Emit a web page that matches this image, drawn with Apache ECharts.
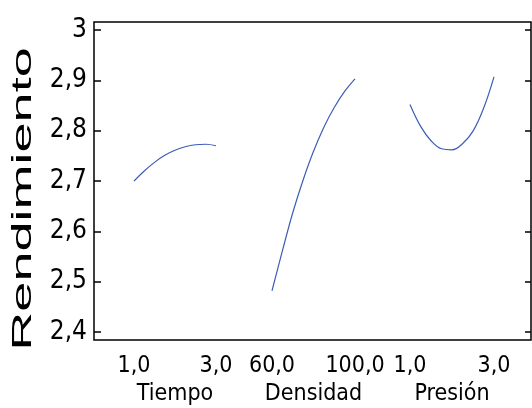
<!DOCTYPE html>
<html>
<head>
<meta charset="utf-8">
<script src="https://cdn.jsdelivr.net/npm/echarts@6/dist/echarts.min.js"></script>
<style>html,body{margin:0;padding:0;background:#fff}#c{width:532px;height:408px}</style>
</head>
<body>
<div id="c"></div>
<script>
// ---- data ----
const yTitle = 'Rendimiento';
const yTicks = [2.4, 2.5, 2.6, 2.7, 2.8, 2.9, 3.0];
const factorNames = ['Tiempo', 'Densidad', 'Presión'];

const tiempoX = [1.0, 1.25, 1.5, 1.75, 2.0, 2.25, 2.5, 2.75, 3.0];
const tiempoY = [2.700, 2.720, 2.737, 2.751, 2.761, 2.768, 2.772, 2.773, 2.770];

const densidadX = [60, 65, 70, 75, 80, 85, 90, 95, 100];
const densidadY = [2.482, 2.561, 2.637, 2.702, 2.759, 2.807, 2.846, 2.878, 2.903];

const presionX = [1.0, 1.25, 1.5, 1.75, 2.0, 2.25, 2.5, 2.75, 3.0];
const presionY = [2.852, 2.809, 2.780, 2.764, 2.762, 2.774, 2.799, 2.844, 2.907];

const xRanges = [[1, 3, 1], [60, 100, 20], [1, 3, 1]];
const xTickLabels = [['1,0', '3,0'], ['60,0', '100,0'], ['1,0', '3,0']];

// ---- chart ----
const FONT = "'Liberation Sans Narrow','Arial Narrow','DejaVu Sans Condensed',sans-serif";
const chart = echarts.init(document.getElementById('c'));
const panelLeft = [134, 272, 410];
const panelWidth = [82, 83, 84];
const seriesX = [tiempoX, densidadX, presionX];
const seriesY = [tiempoY, densidadY, presionY];

const grids = [
  {left: 94, top: 22, width: 437, height: 318, show: true, borderColor: '#000', borderWidth: 1.5, backgroundColor: 'transparent', containLabel: false, outerBoundsMode: 'none'},
  {left: 94, top: 30, width: 437, height: 302, containLabel: false, outerBoundsMode: 'none'}
];
const xAxes = [
  {gridIndex: 0, type: 'value', show: false},
  {gridIndex: 1, type: 'value', show: false}
];
const yAxes = [
  {gridIndex: 0, type: 'value', show: false},
  {gridIndex: 1, type: 'value', position: 'left', min: 2.4, max: 3.0, interval: 0.1,
    axisLine: {show: false}, splitLine: {show: false},
    axisTick: {show: true, inside: true, length: 7, lineStyle: {color: '#000', width: 1.5}},
    axisLabel: {margin: 7, fontSize: 26, color: '#000', fontFamily: FONT,
      formatter: v => (Math.abs(v - 3) < 1e-9 ? '3' : v.toFixed(1).replace('.', ','))}},
  {gridIndex: 1, type: 'value', position: 'right', min: 2.4, max: 3.0, interval: 0.1,
    axisLine: {show: false}, splitLine: {show: false},
    axisTick: {show: true, inside: true, length: 6, lineStyle: {color: '#000', width: 1.5}},
    axisLabel: {show: false}}
];
const series = [];
for (let i = 0; i < 3; i++) {
  grids.push({left: panelLeft[i], top: 30, width: panelWidth[i], height: 302, containLabel: false, outerBoundsMode: 'none'});
  const gi = grids.length - 1;
  const [mn, mx, iv] = xRanges[i];
  const labels = xTickLabels[i];
  xAxes.push({gridIndex: gi, type: 'value', min: mn, max: mx, interval: iv,
    axisLine: {show: false}, axisTick: {show: false}, splitLine: {show: false},
    axisLabel: {margin: 23, fontSize: 23, color: '#000', fontFamily: FONT,
      formatter: v => (Math.abs(v - mn) < 1e-9 ? labels[0] : (Math.abs(v - mx) < 1e-9 ? labels[1] : ''))},
    name: factorNames[i], nameLocation: 'middle', nameGap: 48,
    nameTextStyle: {fontSize: 23, color: '#000', fontFamily: FONT}});
  yAxes.push({gridIndex: gi, type: 'value', min: 2.4, max: 3.0, show: false});
  series.push({type: 'line', xAxisIndex: xAxes.length - 1, yAxisIndex: yAxes.length - 1,
    data: seriesX[i].map((x, k) => [x, seriesY[i][k]]), smooth: 0.4, showSymbol: false,
    lineStyle: {color: '#3d5cb8', width: 1.2}, silent: true});
}

chart.setOption({
  animation: false,
  backgroundColor: '#fff',
  grid: grids, xAxis: xAxes, yAxis: yAxes, series: series,
  graphic: [{type: 'text', x: 23, y: 199, rotation: Math.PI / 2, scaleX: 1.93,
    style: {text: yTitle, fontSize: 28, fontFamily: "'Liberation Sans',Arial,sans-serif", fill: '#000', align: 'center', verticalAlign: 'middle'}}]
});
</script>
</body>
</html>
